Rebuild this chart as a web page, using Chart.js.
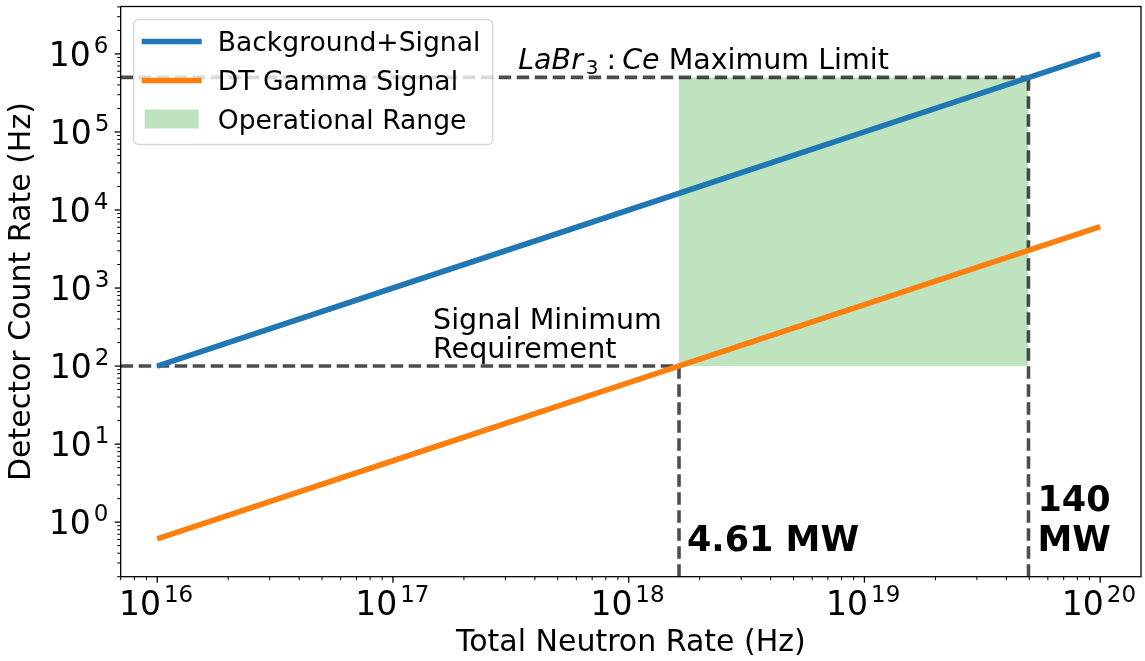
<!DOCTYPE html>
<html>
<head>
<meta charset="utf-8">
<title>Detector count rate vs total neutron rate</title>
<script src="https://cdn.jsdelivr.net/npm/chart.js@4/dist/chart.umd.min.js"></script>
<style>
  html, body { margin: 0; padding: 0; background: #ffffff; }
  #wrap { width: 1145px; height: 661px; }
</style>
</head>
<body>
<div id="wrap"><canvas id="chart" width="1145" height="661"></canvas></div>
<script>
// Total neutron rate (Hz), one sample per decade
const neutronRate = [1e16, 1e17, 1e18, 1e19, 1e20];
// Detector count rates (Hz)
const backgroundSignal = [1e2, 1e3, 1e4, 1e5, 1e6];
const dtGammaSignal = [0.612, 6.12, 61.2, 612, 6120];

// Count-rate thresholds (Hz)
const signalMinimum = 100;
const detectorMaxRate = 5e5;

// Fusion power at the edges of the operating window (MW)
const powerLimitsMW = [4.61, 140];

// Axis ranges and decade tick exponents
const xRange = [7e15, 1.49e20];
const yRange = [0.2, 4.05e6];
const xTickExp = [16, 17, 18, 19, 20];
const yTickExp = [0, 1, 2, 3, 4, 5, 6];

// 17.6 MeV released per D-T fusion, one neutron each
const JOULE_PER_NEUTRON = 17.6 * 1.602176634e-13;
const powerToRate = mw => mw * 1e6 / JOULE_PER_NEUTRON;
const rateLow = powerToRate(powerLimitsMW[0]);
const rateHigh = powerToRate(powerLimitsMW[1]);

const FONT = "'DejaVu Sans', 'Liberation Sans', sans-serif";
const BLUE = '#1f77b4';
const ORANGE = '#ff7f0e';
const FILL_GREEN = 'rgba(44,160,44,0.3)';
const DASH_GREY = 'rgba(0,0,0,0.7)';

const toPoints = (xs, ys) => xs.map((x, i) => ({ x: x, y: ys[i] }));

const dashed = (pts) => ({
  data: pts,
  borderColor: DASH_GREY,
  borderWidth: 3.6,
  borderDash: [12.5, 5.5],
  pointRadius: 0,
  fill: false,
  order: 4
});

const datasets = [
  {
    label: 'Background+Signal',
    data: toPoints(neutronRate, backgroundSignal),
    borderColor: BLUE,
    borderWidth: 5.6,
    pointRadius: 0,
    fill: false,
    order: 1
  },
  {
    label: 'DT Gamma Signal',
    data: toPoints(neutronRate, dtGammaSignal),
    borderColor: ORANGE,
    borderWidth: 5.6,
    pointRadius: 0,
    fill: false,
    order: 2
  },
  {
    label: 'Operational Range',
    data: [{ x: rateLow, y: detectorMaxRate }, { x: rateHigh, y: detectorMaxRate }],
    borderWidth: 0,
    borderColor: 'rgba(0,0,0,0)',
    backgroundColor: FILL_GREEN,
    pointRadius: 0,
    fill: { value: signalMinimum },
    order: 6
  },
  // Maximum count-rate limit and minimum signal requirement
  dashed([{ x: xRange[0], y: detectorMaxRate }, { x: rateHigh, y: detectorMaxRate }]),
  dashed([{ x: xRange[0], y: signalMinimum }, { x: rateLow, y: signalMinimum }]),
  dashed([{ x: rateLow, y: yRange[0] }, { x: rateLow, y: signalMinimum }]),
  dashed([{ x: rateHigh, y: yRange[0] }, { x: rateHigh, y: detectorMaxRate }])
];

// Writes "10" with a raised exponent; anchor is ink-centre or ink-right
function drawPower(ctx, exp, ax, baseY, anchor) {
  const baseFont = '33px ' + FONT;
  const supFont = '23px ' + FONT;
  ctx.font = baseFont;
  const mb = ctx.measureText('10');
  ctx.font = supFont;
  const ms = ctx.measureText(String(exp));
  const gap = 3;
  const inkLeft = -mb.actualBoundingBoxLeft;
  const inkRight = mb.width + gap + ms.actualBoundingBoxRight;
  let x0;
  if (anchor === 'center') x0 = ax - (inkLeft + inkRight) / 2;
  else x0 = ax - inkRight;
  ctx.textAlign = 'left';
  ctx.textBaseline = 'alphabetic';
  ctx.fillStyle = '#000';
  ctx.font = baseFont;
  ctx.fillText('10', x0, baseY);
  ctx.font = supFont;
  ctx.fillText(String(exp), x0 + mb.width + gap, baseY - 12.7);
}

const decorPlugin = {
  id: 'decor',
  afterDatasetsDraw(chart) {
    const ctx = chart.ctx;
    const ca = chart.chartArea;
    const xs = chart.scales.x;
    const ys = chart.scales.y;
    ctx.save();

    // Axes frame
    ctx.strokeStyle = '#000';
    ctx.lineWidth = 1.3;
    ctx.strokeRect(ca.left, ca.top, ca.right - ca.left, ca.bottom - ca.top);

    // Major and minor tick marks (outward)
    const tick = (x1, y1, x2, y2, w) => {
      ctx.lineWidth = w;
      ctx.beginPath();
      ctx.moveTo(x1, y1);
      ctx.lineTo(x2, y2);
      ctx.stroke();
    };
    const fromE = xTickExp[0] - 1, toE = xTickExp[xTickExp.length - 1] + 1;
    for (let e = fromE; e <= toE; e++) {
      for (let k = 1; k <= 9; k++) {
        const v = k * Math.pow(10, e);
        if (v < xRange[0] || v > xRange[1]) continue;
        const px = xs.getPixelForValue(v);
        if (k === 1) tick(px, ca.bottom, px, ca.bottom + 6, 1.3);
        else tick(px, ca.bottom, px, ca.bottom + 3.5, 1);
      }
    }
    for (let e = yTickExp[0] - 1; e <= yTickExp[yTickExp.length - 1] + 1; e++) {
      for (let k = 1; k <= 9; k++) {
        const v = k * Math.pow(10, e);
        if (v < yRange[0] || v > yRange[1]) continue;
        const py = ys.getPixelForValue(v);
        if (k === 1) tick(ca.left, py, ca.left - 6, py, 1.3);
        else tick(ca.left, py, ca.left - 3.5, py, 1);
      }
    }

    // Decade tick labels
    xTickExp.forEach(e => {
      drawPower(ctx, e, xs.getPixelForValue(Math.pow(10, e)), ca.bottom + 38, 'center');
    });
    yTickExp.forEach(e => {
      drawPower(ctx, e, ca.left - 13, ys.getPixelForValue(Math.pow(10, e)) + 12, 'right');
    });

    ctx.fillStyle = '#000';
    ctx.textAlign = 'left';
    ctx.textBaseline = 'alphabetic';

    // LaBr3:Ce limit label
    const yMax = ys.getPixelForValue(detectorMaxRate);
    let tx = xs.getPixelForValue(3.4e17);
    const ty = yMax - 8;
    ctx.font = 'italic 28.5px ' + FONT;
    ctx.fillText('LaBr', tx, ty);
    tx += ctx.measureText('LaBr').width + 3;
    ctx.font = '20px ' + FONT;
    ctx.fillText('3', tx, ty + 5);
    tx += ctx.measureText('3').width + 8;
    ctx.font = '28.5px ' + FONT;
    ctx.fillText(':', tx, ty);
    tx += ctx.measureText(':').width + 6;
    ctx.font = 'italic 28.5px ' + FONT;
    ctx.fillText('Ce', tx, ty);
    tx += ctx.measureText('Ce').width;
    ctx.font = '28.5px ' + FONT;
    ctx.fillText(' Maximum Limit', tx, ty);

    // Minimum signal label
    const yMin = ys.getPixelForValue(signalMinimum);
    const sx = xs.getPixelForValue(1.48e17);
    ctx.font = '28.5px ' + FONT;
    ctx.fillText('Signal Minimum', sx, yMin - 37);
    ctx.fillText('Requirement', sx, yMin - 8);

    // Power annotations beside the vertical limits
    ctx.font = 'bold 35px ' + FONT;
    ctx.fillText(powerLimitsMW[0] + ' MW', xs.getPixelForValue(rateLow) + 8, ca.bottom - 26);
    const hx = xs.getPixelForValue(rateHigh) + 9;
    ctx.fillText(String(powerLimitsMW[1]), hx, ca.bottom - 66);
    ctx.fillText('MW', hx, ca.bottom - 26);

    // Legend
    const lx = ca.left + 13, ly = ca.top + 13, lw = 359, lh = 125;
    ctx.beginPath();
    ctx.roundRect(lx, ly, lw, lh, 5);
    ctx.fillStyle = 'rgba(255,255,255,0.8)';
    ctx.fill();
    ctx.strokeStyle = 'rgba(204,204,204,0.8)';
    ctx.lineWidth = 1.3;
    ctx.stroke();

    const rows = [ly + 22, ly + 61, ly + 100];
    const items = chart.data.datasets.slice(0, 3);
    items.forEach((ds, i) => {
      const ry = rows[i];
      if (i < 2) {
        ctx.strokeStyle = ds.borderColor;
        ctx.lineWidth = 5.6;
        ctx.beginPath();
        ctx.moveTo(lx + 8, ry);
        ctx.lineTo(lx + 68, ry);
        ctx.stroke();
      } else {
        ctx.fillStyle = ds.backgroundColor;
        ctx.fillRect(lx + 11, ry - 10, 54, 19);
      }
      ctx.fillStyle = '#000';
      ctx.font = '26.6px ' + FONT;
      ctx.fillText(ds.label, lx + 84, ry + 9.5);
    });

    ctx.restore();
  }
};

new Chart(document.getElementById('chart'), {
  type: 'line',
  data: { datasets: datasets },
  options: {
    responsive: false,
    animation: false,
    devicePixelRatio: 1,
    layout: { padding: { top: 6.5, right: 4, bottom: 0, left: 0 } },
    plugins: {
      legend: { display: false },
      tooltip: { enabled: false }
    },
    elements: { line: { tension: 0, borderCapStyle: 'butt' } },
    scales: {
      x: {
        type: 'logarithmic',
        min: xRange[0],
        max: xRange[1],
        grid: { display: false },
        border: { display: false },
        ticks: { display: false },
        title: {
          display: true,
          text: 'Total Neutron Rate (Hz)',
          color: '#000',
          font: { family: FONT, size: 30 },
          padding: { top: 0, bottom: 0 }
        },
        afterFit: s => { s.height = 84.3; }
      },
      y: {
        type: 'logarithmic',
        min: yRange[0],
        max: yRange[1],
        grid: { display: false },
        border: { display: false },
        ticks: { display: false },
        title: {
          display: true,
          text: 'Detector Count Rate (Hz)',
          color: '#000',
          font: { family: FONT, size: 30 },
          padding: { top: 4, bottom: 0 }
        },
        afterFit: s => { s.width = 120.7; }
      }
    }
  },
  plugins: [decorPlugin]
});
</script>
</body>
</html>
